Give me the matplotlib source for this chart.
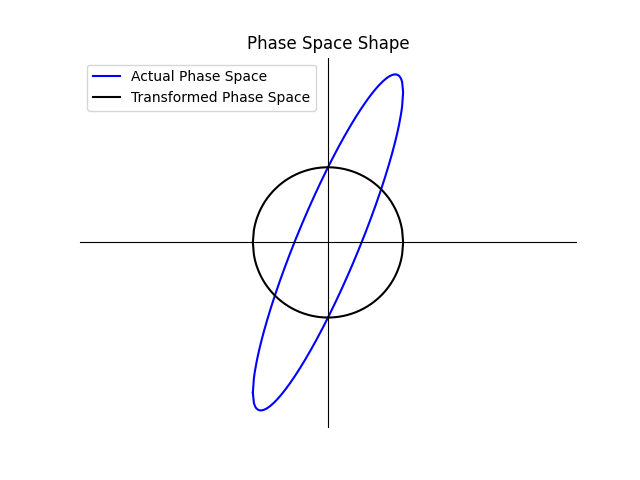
import numpy as np
import matplotlib
matplotlib.use('Agg')
import matplotlib.pyplot as plt

# Twiss parameters
alpha = -2.0
beta = 1.0
emittance = 1.0
gamma = (1 + alpha ** 2) / beta
n_points = 150

# actual phase space ellipse: gamma x^2 + 2 alpha x x' + beta x'^2 = eps
x_max = np.sqrt(emittance * beta)
x = np.linspace(-x_max, x_max, n_points)
root = np.sqrt(np.clip(alpha ** 2 * x ** 2 - beta * (gamma * x ** 2 - emittance), 0, None))
xp_up = (-alpha * x + root) / beta
xp_dn = (-alpha * x - root) / beta
x_ell = np.concatenate([x, x[::-1]])
xp_ell = np.concatenate([xp_up, xp_dn[::-1]])

# normalized (transformed) phase space -> circle
r = np.sqrt(emittance)
xn = np.linspace(-r, r, n_points)
yn = np.sqrt(np.clip(r ** 2 - xn ** 2, 0, None))
xn_c = np.concatenate([xn, xn[::-1]])
yn_c = np.concatenate([yn, -yn[::-1]])

fig, ax = plt.subplots(figsize=(6.4, 4.8), dpi=100)
ax.plot(x_ell, xp_ell, color='blue', label='Actual Phase Space')
ax.plot(xn_c, yn_c, color='black', label='Transformed Phase Space')

ax.spines['left'].set_position('zero')
ax.spines['bottom'].set_position('zero')
ax.spines['right'].set_visible(False)
ax.spines['top'].set_visible(False)
ax.set_xticks([])
ax.set_yticks([])
ax.axis('equal')

ax.set_title('Phase Space Shape')
ax.legend(loc='upper left')
plt.savefig('out.png')
